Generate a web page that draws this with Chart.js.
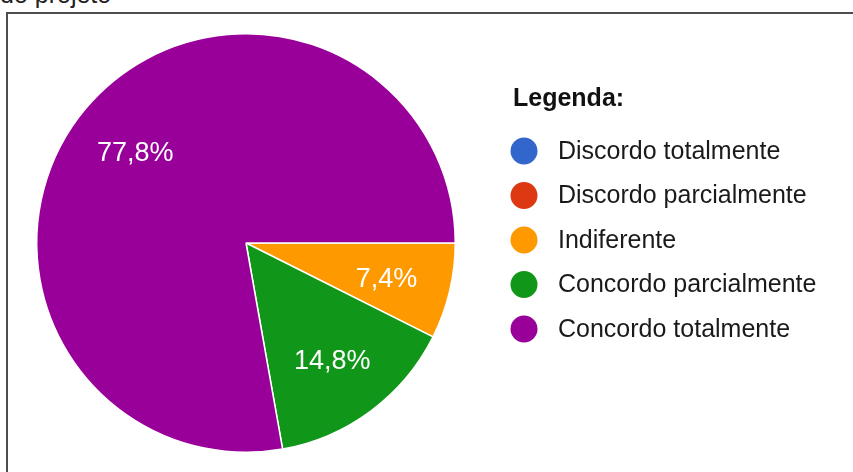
<!DOCTYPE html>
<html>
<head>
<meta charset="utf-8">
<script src="https://cdn.jsdelivr.net/npm/chart.js@4"></script>
<style>
  html, body { margin: 0; padding: 0; background: #ffffff; overflow: hidden; }
  body { width: 853px; height: 472px; position: relative; font-family: 'Liberation Sans', Arial, sans-serif; }
  #toptext { position: absolute; left: 0px; top: -18px; font-size: 25px; line-height: 25px; color: #222; white-space: nowrap; }
  #frame { position: absolute; left: 6px; top: 12px; width: 900px; height: 500px; border-left: 2px solid #4d4d4d; border-top: 2px solid #4d4d4d; }
  #c { position: absolute; left: 0; top: 0; }
</style>
</head>
<body>
<div id="toptext">do projeto</div>
<div id="frame"></div>
<canvas id="c" width="853" height="472"></canvas>
<script>
const categories = ['Discordo totalmente', 'Discordo parcialmente', 'Indiferente', 'Concordo parcialmente', 'Concordo totalmente'];
const percentages = [0, 0, 7.4, 14.8, 77.8];
const sliceColors = ['#3366cc', '#dc3912', '#ff9900', '#109618', '#990099'];
const legendTitle = 'Legenda:';

const FONT = "'Liberation Sans', Arial, sans-serif";

const sliceLabels = {
  id: 'sliceLabels',
  afterDatasetsDraw(chart) {
    const ctx = chart.ctx;
    const meta = chart.getDatasetMeta(0);
    const data = chart.data.datasets[0].data;
    const total = data.reduce((a, b) => a + b, 0);
    ctx.save();
    ctx.fillStyle = '#ffffff';
    ctx.font = '27px ' + FONT;
    ctx.textAlign = 'center';
    ctx.textBaseline = 'middle';
    meta.data.forEach((arc, i) => {
      const v = data[i];
      if (!v) return;
      const p = arc.getProps(['x', 'y', 'startAngle', 'endAngle', 'outerRadius'], true);
      const mid = (p.startAngle + p.endAngle) / 2;
      const r = p.outerRadius * 0.69;
      const txt = (v / total * 100).toFixed(1).replace('.', ',') + '%';
      ctx.fillText(txt, p.x + Math.cos(mid) * r, p.y + Math.sin(mid) * r + 3);
    });
    ctx.restore();
  }
};

const customLegend = {
  id: 'customLegend',
  afterDraw(chart) {
    const ctx = chart.ctx;
    const labels = chart.data.labels;
    const colors = chart.data.datasets[0].backgroundColor;
    const x0 = 513, titleY = 106, firstY = 151, step = 44.5;
    ctx.save();
    ctx.fillStyle = '#111111';
    ctx.font = 'bold 25px ' + FONT;
    ctx.textAlign = 'left';
    ctx.textBaseline = 'alphabetic';
    ctx.fillText(legendTitle, x0, titleY);
    ctx.font = '25px ' + FONT;
    ctx.textBaseline = 'middle';
    labels.forEach((lab, i) => {
      const cy = firstY + i * step;
      ctx.beginPath();
      ctx.arc(x0 + 11, cy, 13.5, 0, Math.PI * 2);
      ctx.fillStyle = colors[i];
      ctx.fill();
      ctx.fillStyle = '#1a1a1a';
      ctx.fillText(lab, x0 + 45, cy + 1);
    });
    ctx.restore();
  }
};

new Chart(document.getElementById('c'), {
  type: 'pie',
  data: {
    labels: categories,
    datasets: [{
      data: percentages,
      backgroundColor: sliceColors,
      borderColor: '#ffffff',
      borderWidth: 1.5
    }]
  },
  options: {
    responsive: false,
    animation: false,
    rotation: 90,
    layout: { padding: { left: 36, top: 33, right: 397, bottom: 19 } },
    plugins: {
      legend: { display: false },
      tooltip: { enabled: false },
      title: { display: false }
    }
  },
  plugins: [sliceLabels, customLegend]
});
</script>
</body>
</html>
